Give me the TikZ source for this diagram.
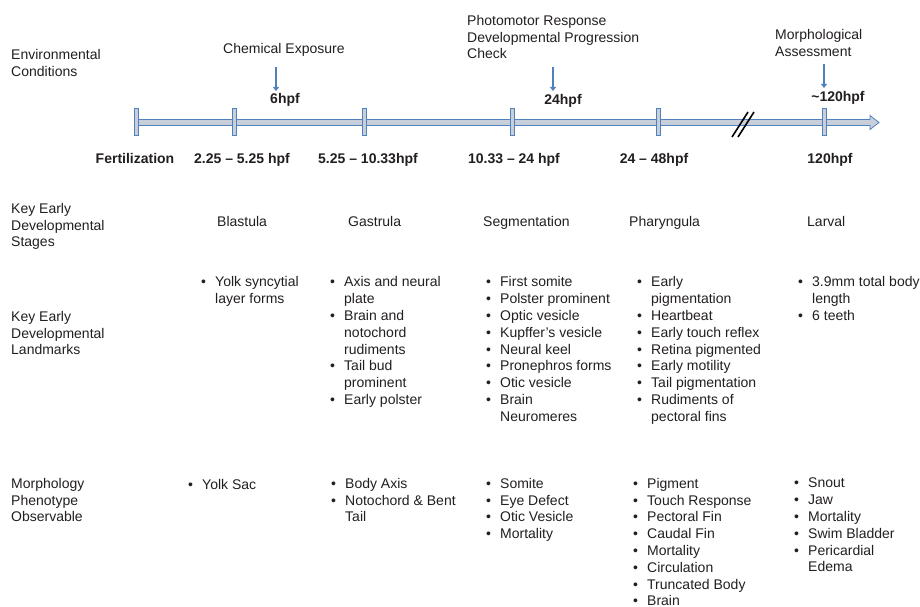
\documentclass[tikz,border=0pt]{standalone}
\usepackage{fontspec}
\setmainfont{Liberation Sans}
\usetikzlibrary{arrows.meta}
\definecolor{tlblue}{RGB}{79,129,189}
\definecolor{tlfill}{RGB}{200,207,218}
\definecolor{ink}{RGB}{35,31,32}
\newcommand{\itm}[1]{\makebox[14pt][l]{•}#1}
\newcommand{\cnt}[1]{\hspace*{14pt}#1}
\tikzset{
  % first line gets a fixed 11pt height, so the given y is its baseline
  txt/.style={anchor=north west, yshift=11pt, inner sep=0pt, align=left, text=ink,
    font=\fontsize{14}{16.8}\selectfont, execute at begin node={\rule{0pt}{11pt}}},
  hpf/.style={anchor=base, inner sep=0pt, text=ink,
    font=\fontsize{14}{16.8}\selectfont\bfseries},
  tick/.style={draw=tlblue, fill=tlfill, line width=0.8pt,
    minimum width=4pt, minimum height=27pt, inner sep=0pt},
  cue/.style={draw=tlblue, line width=1.8pt, -{Triangle[width=6pt,length=4pt]}},
}
\begin{document}
\begin{tikzpicture}[x=1pt,y=-1pt]
  \useasboundingbox[fill=white] (0,0) rectangle (920,607);

  % row headings
  \node[txt] (env) at (11,60) {Environmental\\Conditions};
  \node[txt] (stg) at (11,214) {Key Early\\Developmental\\Stages};
  \node[txt] (lmk) at (11,322) {Key Early\\Developmental\\Landmarks};
  \node[txt] (mph) at (11,489) {Morphology\\Phenotype\\Observable};

  % time line
  \draw[tlblue, fill=tlfill, line width=0.8pt]
    (135,119.5) -- (870,119.5) -- (870,115.5) -- (879,122.5)
    -- (870,129.5) -- (870,125.5) -- (135,125.5) -- cycle;
  \foreach \x [count=\i] in {136,234,364,512,658,824}
    \node[tick] (t\i) at (\x,122) {};
  \draw[black, line width=1.6pt] (732,137) -- (748,112);
  \draw[black, line width=1.6pt] (738,137) -- (754,112);

  \node[hpf] (d1) at (135,163) {Fertilization};
  \node[hpf] (d2) at (242,163) {2.25 -- 5.25 hpf};
  \node[hpf] (d3) at (368,163) {5.25 -- 10.33hpf};
  \node[hpf] (d4) at (514,163) {10.33 -- 24 hpf};
  \node[hpf] (d5) at (654,163) {24 -- 48hpf};
  \node[hpf] (d6) at (830,163) {120hpf};

  % conditions
  \node[txt] (chem) at (223,53) {Chemical Exposure};
  \node[txt] (pmr) at (467,26) {Photomotor Response\\Developmental Progression\\Check};
  \node[txt] (morph) at (775,40) {Morphological\\Assessment};
  \node[hpf] (h6) at (285,103) {6hpf};
  \node[hpf] (h24) at (563,105) {24hpf};
  \node[hpf] (h120) at (838,102) {\textasciitilde120hpf};
  \coordinate (c1) at (276,67);  \coordinate (e1) at (276,91);
  \coordinate (c2) at (553,67);  \coordinate (e2) at (553,91);
  \coordinate (c3) at (824,64);  \coordinate (e3) at (824,88);
  \draw[cue] (c1) -- (e1);
  \draw[cue] (c2) -- (e2);
  \draw[cue] (c3) -- (e3);

  % stages
  \node[txt] (s1) at (217,226) {Blastula};
  \node[txt] (s2) at (348,226) {Gastrula};
  \node[txt] (s3) at (483,226) {Segmentation};
  \node[txt] (s4) at (629,226) {Pharyngula};
  \node[txt] (s5) at (807,226) {Larval};

  % landmarks
  \node[txt] (l1) at (201,287.5) {\itm{Yolk syncytial}\\\cnt{layer forms}};
  \node[txt] (l2) at (330,287.5) {\itm{Axis and neural}\\\cnt{plate}\\\itm{Brain and}\\\cnt{notochord}\\\cnt{rudiments}\\\itm{Tail bud}\\\cnt{prominent}\\\itm{Early polster}};
  \node[txt] (l3) at (486,287.5) {\itm{First somite}\\\itm{Polster prominent}\\\itm{Optic vesicle}\\\itm{Kupffer’s vesicle}\\\itm{Neural keel}\\\itm{Pronephros forms}\\\itm{Otic vesicle}\\\itm{Brain}\\\cnt{Neuromeres}};
  \node[txt] (l4) at (637,287.5) {\itm{Early}\\\cnt{pigmentation}\\\itm{Heartbeat}\\\itm{Early touch reflex}\\\itm{Retina pigmented}\\\itm{Early motility}\\\itm{Tail pigmentation}\\\itm{Rudiments of}\\\cnt{pectoral fins}};
  \node[txt] (l5) at (798,287.5) {\itm{3.9mm total body}\\\cnt{length}\\\itm{6 teeth}};

  % phenotypes
  \node[txt] (p1) at (188,489) {\itm{Yolk Sac}};
  \node[txt] (p2) at (331,489) {\itm{Body Axis}\\\itm{Notochord \& Bent}\\\cnt{Tail}};
  \node[txt] (p3) at (486,489) {\itm{Somite}\\\itm{Eye Defect}\\\itm{Otic Vesicle}\\\itm{Mortality}};
  \node[txt] (p4) at (633,489) {\itm{Pigment}\\\itm{Touch Response}\\\itm{Pectoral Fin}\\\itm{Caudal Fin}\\\itm{Mortality}\\\itm{Circulation}\\\itm{Truncated Body}\\\itm{Brain}};
  \node[txt] (p5) at (794,489) {\itm{Snout}\\\itm{Jaw}\\\itm{Mortality}\\\itm{Swim Bladder}\\\itm{Pericardial}\\\cnt{Edema}};
\end{tikzpicture}
\end{document}
